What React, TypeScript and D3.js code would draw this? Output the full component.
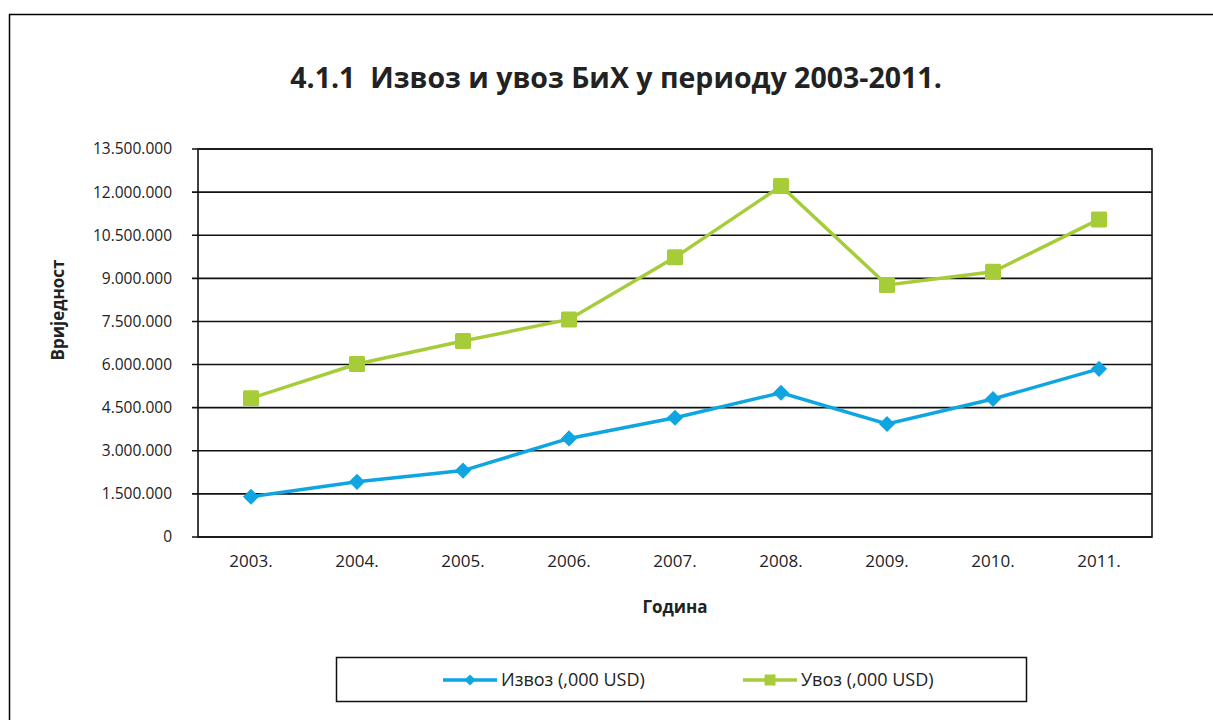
import React, { useEffect, useRef } from "react";
import * as d3 from "d3";

const years = ["2003.", "2004.", "2005.", "2006.", "2007.", "2008.", "2009.", "2010.", "2011."];
const izvoz = [1400000, 1920000, 2310000, 3430000, 4150000, 5020000, 3930000, 4800000, 5850000];
const uvoz = [4830000, 6020000, 6820000, 7570000, 9730000, 12210000, 8770000, 9230000, 11050000];
const yTicks = [0, 1500000, 3000000, 4500000, 6000000, 7500000, 9000000, 10500000, 12000000, 13500000];

const title = "4.1.1  Извоз и увоз БиХ у периоду 2003-2011.";
const yTitle = "Вриједност";
const xTitle = "Година";
const seriesNames = ["Извоз (,000 USD)", "Увоз (,000 USD)"];
const blue = "#0ea5e0";
const green = "#a6cd39";
const FONT = "'Open Sans', 'Noto Sans', sans-serif";

export default function App() {
  const ref = useRef<SVGSVGElement>(null);
  useEffect(() => {
    const svg = d3.select(ref.current);
    svg.selectAll("*").remove();
    const left = 198, right = 1152, top = 149, bottom = 537;

    // outer frame
    svg.append("path").attr("d", `M1213,14.5 H9.5 V720`).attr("fill", "none").attr("stroke", "#000").attr("stroke-width", 1.5);

    svg.append("text").attr("x", 616).attr("y", 88).attr("text-anchor", "middle")
      .attr("font-family", FONT).attr("font-weight", 700).attr("font-size", 28.5).attr("fill", "#222")
      .style("white-space", "pre")
      .text(title);

    const x = d3.scaleBand<string>().domain(years).range([left, right]);
    const y = d3.scaleLinear().domain([0, 13500000]).range([bottom, top]);

    const fmt = (v: number) => d3.format(",")(v).replace(/,/g, ".");

    // gridlines
    svg.append("g").selectAll("line").data(yTicks).join("line")
      .attr("x1", left - 6).attr("x2", right)
      .attr("y1", (d) => y(d)).attr("y2", (d) => y(d))
      .attr("stroke", "#111").attr("stroke-width", 1.6);

    svg.append("rect").attr("x", left).attr("y", top).attr("width", right - left).attr("height", bottom - top)
      .attr("fill", "none").attr("stroke", "#111").attr("stroke-width", 1.6);

    svg.append("g").selectAll("text").data(yTicks).join("text")
      .attr("x", left - 26).attr("y", (d) => y(d)).attr("dy", "0.35em").attr("text-anchor", "end")
      .attr("font-family", FONT).attr("font-size", 15.5).attr("fill", "#222")
      .text((d) => fmt(d));

    svg.append("g").selectAll("text").data(years).join("text")
      .attr("x", (d) => (x(d) as number) + x.bandwidth() / 2).attr("y", 567).attr("text-anchor", "middle")
      .attr("font-family", FONT).attr("font-size", 17).attr("fill", "#222")
      .text((d) => d);

    svg.append("text").attr("x", 675).attr("y", 613).attr("text-anchor", "middle")
      .attr("font-family", FONT).attr("font-weight", 700).attr("font-size", 17).attr("fill", "#222").text(xTitle);

    svg.append("text").attr("transform", `translate(64,310) rotate(-90)`).attr("text-anchor", "middle")
      .attr("font-family", FONT).attr("font-weight", 700).attr("font-size", 17).attr("fill", "#222").text(yTitle);

    const cx = (i: number) => (x(years[i]) as number) + x.bandwidth() / 2;
    const line = d3.line<number>().x((_, i) => cx(i)).y((d) => y(d));

    svg.append("path").datum(uvoz).attr("d", line).attr("fill", "none").attr("stroke", green).attr("stroke-width", 3.5);
    svg.append("g").selectAll("rect").data(uvoz).join("rect")
      .attr("x", (_, i) => cx(i) - 8).attr("y", (d) => y(d) - 8).attr("width", 16).attr("height", 16).attr("rx", 1.5)
      .attr("fill", green);

    svg.append("path").datum(izvoz).attr("d", line).attr("fill", "none").attr("stroke", blue).attr("stroke-width", 3.5);
    svg.append("g").selectAll("path").data(izvoz).join("path")
      .attr("transform", (d, i) => `translate(${cx(i)},${y(d)}) rotate(45)`)
      .attr("d", d3.symbol().type(d3.symbolSquare).size(130) as any)
      .attr("fill", blue);

    // legend
    svg.append("rect").attr("x", 336.5).attr("y", 657.5).attr("width", 690).attr("height", 44)
      .attr("fill", "#fff").attr("stroke", "#111").attr("stroke-width", 1.5);
    const lg = [
      { x0: 443, name: seriesNames[0], color: blue, kind: "d" },
      { x0: 743, name: seriesNames[1], color: green, kind: "s" },
    ];
    lg.forEach((l) => {
      svg.append("line").attr("x1", l.x0).attr("x2", l.x0 + 54).attr("y1", 680).attr("y2", 680)
        .attr("stroke", l.color).attr("stroke-width", 3.5);
      if (l.kind === "d") {
        svg.append("path").attr("transform", `translate(${l.x0 + 27},680) rotate(45)`)
          .attr("d", d3.symbol().type(d3.symbolSquare).size(60) as any).attr("fill", l.color);
      } else {
        svg.append("rect").attr("x", l.x0 + 27 - 5.5).attr("y", 674.5).attr("width", 11).attr("height", 11).attr("fill", l.color);
      }
      svg.append("text").attr("x", l.x0 + 58).attr("y", 680).attr("dy", "0.35em")
        .attr("font-family", FONT).attr("font-size", 18).attr("fill", "#222").text(l.name);
    });
  }, []);
  return <svg ref={ref} width={1213} height={720} style={{ position: "absolute", left: 0, top: 0, background: "#fff" }} />;
}
